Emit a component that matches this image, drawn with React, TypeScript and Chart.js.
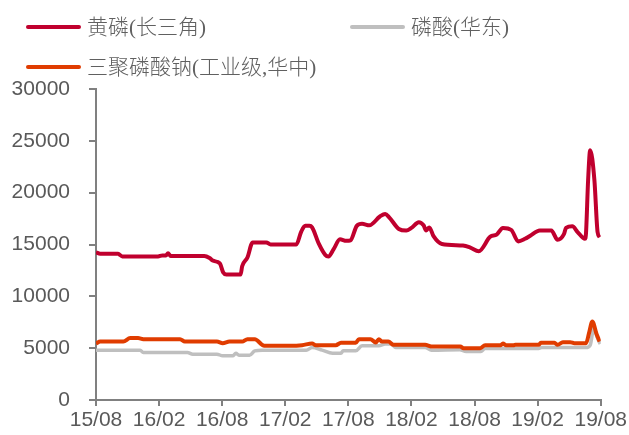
import React, { useEffect, useRef } from "react";
import { Chart, registerables } from "chart.js";

Chart.register(...registerables);

// x positions are months since 2015/08
const xTickLabels = ["15/08", "16/02", "16/08", "17/02", "17/08", "18/02", "18/08", "19/02", "19/08"];
const yTicks = [0, 5000, 10000, 15000, 20000, 25000, 30000];

const seriesNames = ["黄磷(长三角)", "磷酸(华东)", "三聚磷酸钠(工业级,华中)"];

const yellowPMonths = [0, 0.4, 2.1, 2.5, 5.9, 6.3, 6.65, 6.85, 7.1, 10.3, 10.8, 11.1, 11.6, 11.8, 12.1, 12.4, 13.75, 13.9, 14.4, 14.9, 16.2, 16.6, 19.05, 19.5, 19.9, 20.3, 20.55, 21.2, 21.8, 22.1, 22.6, 23.2, 23.8, 24.2, 24.8, 25.3, 26.0, 27.0, 27.5, 27.9, 28.8, 29.5, 30.0, 30.7, 31.15, 31.4, 31.7, 32.1, 32.9, 34.9, 35.6, 36.4, 37.5, 38.1, 38.7, 39.5, 40.15, 40.8, 41.3, 42.2, 43.3, 43.9, 44.5, 44.7, 45.3, 45.8, 46.5, 46.6, 46.8, 47.0, 47.4, 47.7, 47.9];
const yellowPValues = [14250, 14100, 14100, 13850, 13850, 13950, 13950, 14150, 13900, 13900, 13700, 13450, 13300, 13150, 12300, 12100, 12100, 12900, 13750, 15200, 15200, 15000, 15000, 16200, 16800, 16800, 16650, 15050, 14000, 13850, 14550, 15500, 15350, 15400, 16800, 17000, 16850, 17700, 17950, 17600, 16500, 16350, 16600, 17150, 16850, 16350, 16650, 15800, 15050, 14900, 14700, 14350, 15750, 15950, 16600, 16400, 15300, 15550, 15850, 16350, 16350, 15450, 16000, 16600, 16750, 16200, 15550, 16100, 21200, 24100, 21200, 16200, 15700];

const acidMonths = [0, 4.2, 4.5, 8.7, 9.2, 11.5, 12.05, 13.0, 13.3, 13.6, 14.6, 15.1, 15.8, 20.0, 20.55, 21.5, 22.5, 23.3, 23.5, 24.7, 25.3, 26.9, 27.5, 28.1, 28.5, 31.3, 31.9, 34.6, 35.2, 36.6, 37.0, 42.1, 42.4, 46.6, 47.0, 47.35, 47.65, 47.95];
const acidValues = [4810, 4810, 4580, 4580, 4420, 4420, 4260, 4260, 4500, 4320, 4320, 4740, 4810, 4810, 5060, 4810, 4520, 4520, 4740, 4740, 5230, 5230, 5390, 5390, 5060, 5060, 4810, 4850, 4680, 4680, 4970, 4970, 5060, 5060, 5300, 7000, 6100, 5400];

const stppMonths = [0, 0.4, 2.6, 3.25, 4.0, 4.5, 8.0, 8.45, 11.5, 12.05, 12.7, 13.9, 14.4, 15.1, 15.8, 16.0, 18.5, 19.6, 20.55, 20.9, 22.8, 23.3, 24.7, 25.0, 26.1, 26.6, 26.9, 27.2, 27.8, 28.3, 31.3, 31.9, 34.65, 34.95, 36.55, 37.0, 38.5, 38.7, 39.0, 39.7, 39.9, 42.1, 42.3, 43.6, 43.9, 44.4, 45.1, 45.5, 46.6, 46.9, 47.2, 47.6, 47.9];
const stppValues = [5450, 5640, 5640, 5970, 5970, 5870, 5870, 5640, 5640, 5480, 5640, 5640, 5870, 5870, 5320, 5230, 5230, 5290, 5450, 5290, 5290, 5515, 5515, 5870, 5870, 5550, 5870, 5640, 5640, 5320, 5320, 5160, 5160, 5000, 5000, 5290, 5290, 5450, 5290, 5290, 5320, 5320, 5515, 5515, 5320, 5580, 5580, 5480, 5480, 6500, 7580, 6360, 5640];

const colors = ["#C0002E", "#BFBFBF", "#E03C00"];

const toPoints = (xs: number[], ys: number[]) => xs.map((x, i) => ({ x, y: ys[i] }));

export default function App() {
  const ref = useRef<HTMLCanvasElement | null>(null);

  useEffect(() => {
    if (!ref.current) return;
    const chart = new Chart(ref.current, {
      type: "line",
      data: {
        datasets: [
          {
            label: seriesNames[0],
            data: toPoints(yellowPMonths, yellowPValues),
            borderColor: colors[0],
            borderWidth: 4,
            pointRadius: 0,
            cubicInterpolationMode: "monotone",
          },
          {
            label: seriesNames[2],
            data: toPoints(stppMonths, stppValues),
            borderColor: colors[2],
            borderWidth: 4,
            pointRadius: 0,
            cubicInterpolationMode: "monotone",
          },
          {
            label: seriesNames[1],
            data: toPoints(acidMonths, acidValues),
            borderColor: colors[1],
            borderWidth: 3.5,
            pointRadius: 0,
            cubicInterpolationMode: "monotone",
          },
        ],
      },
      options: {
        animation: false,
        responsive: false,
        layout: { padding: { top: 89, right: 26, left: 0, bottom: 0 } },
        plugins: { legend: { display: false }, tooltip: { enabled: false } },
        scales: {
          x: {
            type: "linear",
            min: 0,
            max: 48,
            afterFit: (s: any) => {
              s.height = 35;
            },
            afterBuildTicks: (s: any) => {
              s.ticks = xTickLabels.map((_, i) => ({ value: i * 6 }));
            },
            ticks: {
              autoSkip: false,
              maxRotation: 0,
              padding: 2,
              color: "#595959",
              font: { family: "'Liberation Sans', Arial, sans-serif", size: 21 },
              callback: (v: any) => xTickLabels[Math.round(Number(v) / 6)] ?? "",
            },
            grid: {
              drawOnChartArea: false,
              drawTicks: true,
              tickLength: 6,
              color: "#808080",
              lineWidth: 2,
            },
            border: { color: "#808080", width: 2 },
          },
          y: {
            min: 0,
            max: 30000,
            afterFit: (s: any) => {
              s.width = 96;
            },
            afterBuildTicks: (s: any) => {
              s.ticks = yTicks.map((v) => ({ value: v }));
            },
            ticks: {
              padding: 19,
              color: "#595959",
              font: { family: "'Liberation Sans', Arial, sans-serif", size: 21 },
              callback: (v: any) => String(v),
            },
            grid: {
              drawOnChartArea: false,
              drawTicks: true,
              tickLength: 7,
              color: "#808080",
              lineWidth: 2,
            },
            border: { color: "#808080", width: 2 },
          },
        },
      },
    });
    return () => chart.destroy();
  }, []);

  const legendFont = "'Liberation Serif', 'Noto Sans CJK SC', serif";
  const legendItems = [
    { name: seriesNames[0], color: colors[0], lineX: 26, textX: 87, y: 27 },
    { name: seriesNames[1], color: colors[1], lineX: 350, textX: 411, y: 27 },
    { name: seriesNames[2], color: colors[2], lineX: 26, textX: 87, y: 67 },
  ];

  return (
    <div style={{ position: "fixed", left: 0, top: 0, width: 629, height: 435, background: "#fff" }}>
      <canvas ref={ref} width={629} height={435} style={{ position: "absolute", left: 0, top: 0 }} />
      {legendItems.map((it) => (
        <React.Fragment key={it.name}>
          <div
            style={{
              position: "absolute",
              left: it.lineX,
              top: it.y - 2,
              width: 55,
              height: 4,
              borderRadius: 2,
              background: it.color,
            }}
          />
          <div
            style={{
              position: "absolute",
              left: it.textX,
              top: it.y - 14,
              height: 28,
              lineHeight: "28px",
              fontSize: 21,
              fontWeight: 300,
              fontFamily: legendFont,
              color: "#606060",
              whiteSpace: "nowrap",
            }}
          >
            {it.name}
          </div>
        </React.Fragment>
      ))}
    </div>
  );
}
